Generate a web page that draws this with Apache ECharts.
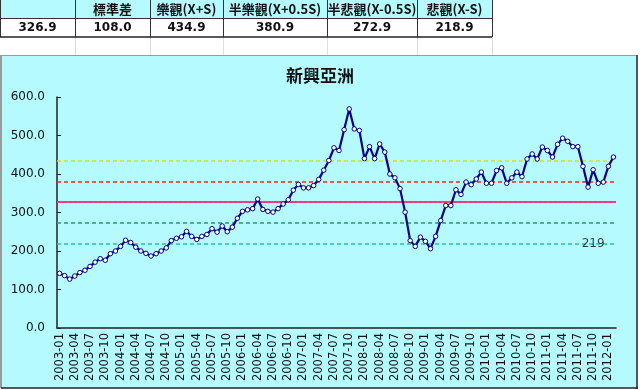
<!DOCTYPE html>
<html><head><meta charset="utf-8">
<script src="https://cdn.jsdelivr.net/npm/echarts@6/dist/echarts.min.js"></script>
<style>html,body{margin:0;padding:0;background:#fff}#c{width:640px;height:390px}</style>
</head><body><div id="c"></div>
<script>
// ---- data ----
const title = '新興亞洲';
const startYear = 2003, startMonth = 1, monthCount = 110;
const categories = [];
for (let k = 0; k < monthCount; k++) {
  const m = (startMonth - 1 + k) % 12 + 1, y = startYear + Math.floor((startMonth - 1 + k) / 12);
  categories.push(y + '-' + (m < 10 ? '0' + m : m));
}
const indexValues = [
  142,136,127,135,144,150,160,171,180,176,193,200,212,228,222,210,200,194,187,193,
  200,208,227,233,237,251,238,230,238,243,258,249,265,250,262,285,303,307,310,335,
  308,303,301,310,322,333,358,373,364,364,370,386,410,435,468,461,515,569,517,513,
  440,471,440,478,457,400,390,362,301,227,212,236,225,206,238,279,318,318,359,347,
  379,372,387,405,376,376,409,416,376,390,405,393,439,452,439,470,461,444,477,493,
  485,471,471,420,366,411,376,379,420,444
];
const statHeaders = ['', '標準差', '樂觀(X+S)', '半樂觀(X+0.5S)', '半悲觀(X-0.5S)', '悲觀(X-S)'];
const statValues = [326.9, 108.0, 434.9, 380.9, 272.9, 218.9];
const yTicks = [0, 100, 200, 300, 400, 500, 600];

// ---- layout / style ----
const colX = [0, 75, 150, 223, 327, 417, 492];
const mean = statValues[0], opt = statValues[2], semiOpt = statValues[3], semiPes = statValues[4], pes = statValues[5];
const cyan = '#B4FAFF';

const graphics = [];
graphics.push({type:'rect', z:0, shape:{x:1, y:55, width:636, height:333}, style:{fill:cyan}});
graphics.push({type:'line', z:2, shape:{x1:1, y1:55.5, x2:637, y2:55.5}, style:{stroke:'#9a9a9a', lineWidth:1}});
graphics.push({type:'line', z:2, shape:{x1:1, y1:55, x2:1, y2:388}, style:{stroke:'#9a9a9a', lineWidth:2}});
graphics.push({type:'line', z:2, shape:{x1:637, y1:55, x2:637, y2:389}, style:{stroke:'#222', lineWidth:1.5}});
graphics.push({type:'line', z:2, shape:{x1:1, y1:388, x2:638, y2:388}, style:{stroke:'#222', lineWidth:1.5}});
graphics.push({type:'rect', z:2, shape:{x:0, y:0, width:492, height:18}, style:{fill:cyan}});
for (let j = 1; j < colX.length; j++) {
  graphics.push({type:'line', z:2, shape:{x1:colX[j]+0.5, y1:37, x2:colX[j]+0.5, y2:55}, style:{stroke:'#d8dde6', lineWidth:1}});
}
for (let j = 0; j < colX.length; j++) {
  graphics.push({type:'line', z:3, shape:{x1:colX[j]+0.5, y1:0, x2:colX[j]+0.5, y2:37}, style:{stroke:'#333', lineWidth:1}});
}
graphics.push({type:'line', z:3, shape:{x1:0, y1:18.5, x2:492, y2:18.5}, style:{stroke:'#333', lineWidth:1}});
graphics.push({type:'line', z:3, shape:{x1:0, y1:37, x2:492, y2:37}, style:{stroke:'#222', lineWidth:1.5}});
for (let j = 0; j < statHeaders.length; j++) {
  const cx = (colX[j] + colX[j+1]) / 2;
  graphics.push({type:'text', z:4, style:{text:statHeaders[j], x:cx, y:9.5, align:'center', verticalAlign:'middle',
    font:'bold 13px "Noto Sans CJK TC", sans-serif', fill:'#111'}});
  graphics.push({type:'text', z:4, style:{text:statValues[j].toFixed(1), x:cx, y:28, align:'center', verticalAlign:'middle',
    font:'bold 12px "DejaVu Sans", sans-serif', fill:'#111'}});
}

const dash = [4, 3];
function refLine(value, color, type, width) {
  return {
    type: 'line', data: [], silent: true, z: 3,
    markLine: {silent:true, symbol:'none', label:{show:false}, z:3,
      lineStyle:{color:color, type:type, width:width, opacity:1},
      data: [{yAxis: value}]}
  };
}

const chart = echarts.init(document.getElementById('c'), null, {renderer:'canvas'});
chart.setOption({
  animation: false,
  backgroundColor: '#ffffff',
  title: {text: title, left: 'center', top: 62, textStyle:{fontFamily:'"Noto Sans CJK TC", sans-serif', fontSize:17, fontWeight:'bold', color:'#111'}},
  graphic: graphics,
  grid: {left: 57, top: 97, right: 24, bottom: 62, show: true, backgroundColor:'#ffffff', borderColor:'#8c8c8c', borderWidth:1},
  xAxis: {
    type: 'category', data: categories, boundaryGap: true,
    axisLine: {lineStyle:{color:'#222', width:1.5}},
    axisTick: {inside:true, length:4, interval:2, lineStyle:{color:'#222'}},
    axisLabel: {interval:2, rotate:90, fontSize:11.5, fontFamily:'"DejaVu Sans", sans-serif', color:'#111', margin:5}
  },
  yAxis: {
    type: 'value', min: yTicks[0], max: yTicks[yTicks.length-1], interval: 100,
    axisLine: {show:true, lineStyle:{color:'#222', width:1.5}},
    axisTick: {show:true, inside:true, length:4, lineStyle:{color:'#222'}},
    splitLine: {show:false},
    axisLabel: {formatter: v => v.toFixed(1), fontSize:12, fontFamily:'"DejaVu Sans", sans-serif', color:'#111', margin:12}
  },
  series: [
    refLine(opt, '#E6DC00', dash, 1.5),
    refLine(semiOpt, '#FF2020', dash, 1.5),
    refLine(mean, '#FF0033', 'solid', 1.5),
    refLine(mean, '#FF33CC', [2,3], 1.5),
    refLine(semiPes, '#1FA060', dash, 1.5),
    refLine(pes, '#22C4A8', dash, 1.5),
  {
    type: 'line', data: indexValues, symbol: 'circle', symbolSize: 4.5, showAllSymbol: true,
    lineStyle: {color:'#000080', width:2.2}, itemStyle:{color:'#ffffff', borderColor:'#000080', borderWidth:1},
    z: 5
  }, {
    type: 'scatter', symbol: 'circle', symbolSize: 0.1, silent: true, z: 6,
    itemStyle: {color:'rgba(0,0,0,0)'},
    data: [[categories[105], pes]],
    label: {show:true, position:'inside', formatter: () => String(Math.round(pes)), fontSize:12, fontFamily:'"DejaVu Sans", sans-serif', color:'#111'}
  }]
});
</script></body></html>
